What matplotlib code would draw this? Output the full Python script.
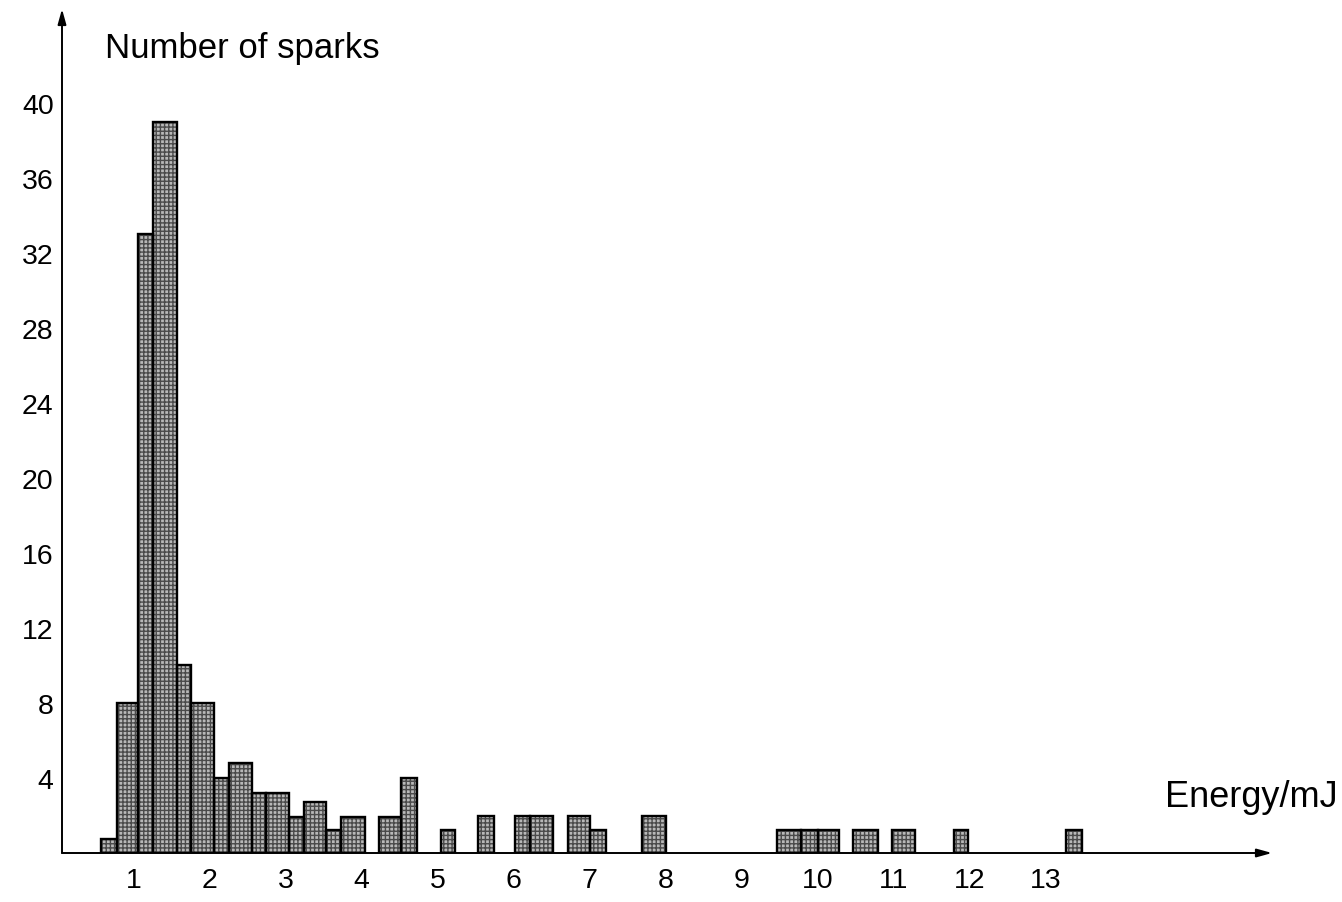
import matplotlib
matplotlib.use("Agg")
import matplotlib.pyplot as plt

# Spark energy histogram: bin edges (mJ) and number of sparks per bin
bin_left = [0.57, 0.78, 1.06, 1.26, 1.57, 1.755, 2.06, 2.255, 2.56, 2.74,
            3.045, 3.24, 3.53, 3.73, 4.23, 4.52, 5.04, 5.53, 6.02, 6.22,
            6.71, 7.0, 7.69, 9.47, 9.78, 10.0, 10.47, 10.98, 11.79, 13.27]
bin_right = [0.78, 1.06, 1.26, 1.57, 1.755, 2.06, 2.255, 2.56, 2.74, 3.045,
             3.24, 3.53, 3.73, 4.04, 4.52, 4.73, 5.23, 5.74, 6.22, 6.52,
             7.0, 7.22, 8.0, 9.78, 10.0, 10.28, 10.79, 11.28, 11.98, 13.48]
counts = [0.75, 8, 33, 39, 10, 8, 4, 4.8, 3.2, 3.2,
          1.9, 2.7, 1.2, 1.9, 1.9, 4.0, 1.2, 1.95, 1.95, 1.95,
          1.95, 1.2, 1.95, 1.2, 1.2, 1.2, 1.2, 1.2, 1.2, 1.2]

x_ticks = list(range(1, 14))
y_ticks = list(range(4, 41, 4))

FONT = "Liberation Sans"

fig = plt.figure(figsize=(13.42, 9.03), dpi=100)
ax = fig.add_axes([62 / 1342, 49 / 903, (1272 - 62) / 1342, (854 - 10) / 903])
ax.set_xlim(0.058, 15.98)
ax.set_ylim(0, 45)

widths = [r - l for l, r in zip(bin_left, bin_right)]

# textured fill
ax.bar(bin_left, counts, width=widths, align="edge", facecolor="#b8b8b8",
       edgecolor="#4a4a4a", hatch="++++", linewidth=0, zorder=2)
# outlines
ax.bar(bin_left, counts, width=widths, align="edge", fill=False,
       edgecolor="black", linewidth=1.7, zorder=3)

for s in ax.spines.values():
    s.set_visible(False)

# axes with arrow heads
arrow = dict(arrowstyle="-|>,head_length=0.9,head_width=0.25", color="black",
             lw=1.4, shrinkA=0, shrinkB=0)
ax.annotate("", xy=(1, 0), xytext=(0, 0), xycoords="axes fraction",
            arrowprops=arrow, annotation_clip=False)
ax.annotate("", xy=(0, 1), xytext=(0, 0), xycoords="axes fraction",
            arrowprops=arrow, annotation_clip=False)

ax.set_xticks(x_ticks)
ax.set_xticklabels([str(t) for t in x_ticks], fontsize=20.5, family=FONT)
ax.set_yticks(y_ticks)
ax.set_yticklabels([str(t) for t in y_ticks], fontsize=20.5, family=FONT)
ax.tick_params(axis="x", length=0, pad=10)
ax.tick_params(axis="y", length=0, pad=6)

ax.text(0.62, 42.45, "Number of sparks", fontsize=25, family=FONT,
        ha="left", va="baseline", clip_on=False)
ax.text(14.57, 2.5, "Energy/mJ", fontsize=26, family=FONT,
        ha="left", va="baseline", clip_on=False)

fig.savefig("out.png", dpi=100)
